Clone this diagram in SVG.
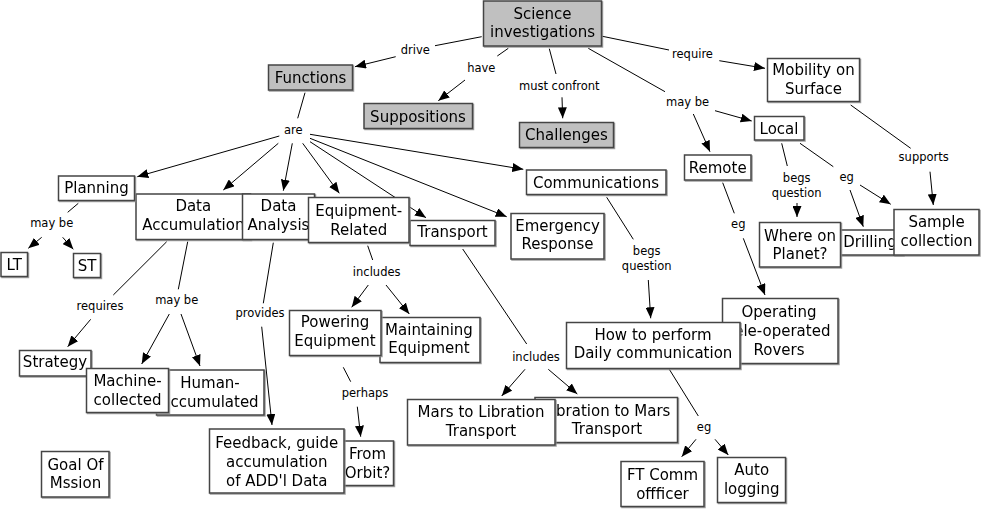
<svg xmlns="http://www.w3.org/2000/svg" width="981" height="509" viewBox="0 0 981 509">
<style>
.box{fill:#fff;stroke:#444;stroke-width:1.5}
.gray{fill:#c0c0c0}
.t{font-family:"DejaVu Sans","Liberation Sans",sans-serif;font-size:15px;fill:#000;text-anchor:middle}
.lb{font-family:"DejaVu Sans","Liberation Sans",sans-serif;font-size:11.5px;fill:#000;text-anchor:middle}
.c line{stroke:#000;stroke-width:1}
.c .a{marker-end:url(#arr)}
</style>
<defs>
<marker id="arr" markerUnits="userSpaceOnUse" markerWidth="11" markerHeight="9" refX="11" refY="4.5" orient="auto">
<path d="M0,0 L11,4.5 L0,9 z" fill="#000"/>
</marker>
<filter id="sh" x="-5%" y="-5%" width="115%" height="120%">
<feDropShadow dx="1" dy="1" stdDeviation="0.6" flood-color="#888" flood-opacity="0.8"/>
</filter>
</defs>
<g id="connectors" class="c">
<line x1="481.7" y1="36.7" x2="435" y2="45.7"/>
<line class="a" x1="395.7" y1="56.7" x2="355" y2="66.7"/>
<line x1="508.3" y1="48.3" x2="497.3" y2="56"/>
<line class="a" x1="465" y1="80" x2="438.3" y2="100.7"/>
<line x1="549.3" y1="48.7" x2="556" y2="74"/>
<line class="a" x1="562" y1="97.3" x2="562.7" y2="118.3"/>
<line x1="601" y1="36" x2="669" y2="50"/>
<line class="a" x1="719.3" y1="60.7" x2="765" y2="68.3"/>
<line x1="588.3" y1="48.3" x2="665" y2="91.7"/>
<line class="a" x1="715" y1="110.7" x2="751.7" y2="121"/>
<line class="a" x1="693.3" y1="114" x2="710" y2="151.7"/>
<line x1="850.7" y1="105" x2="910.7" y2="148.3"/>
<line class="a" x1="930" y1="171.7" x2="933.3" y2="205"/>
<line x1="781.7" y1="143.3" x2="787.3" y2="166"/>
<line class="a" x1="797" y1="203" x2="797" y2="217"/>
<line x1="800" y1="143.3" x2="833.3" y2="166.7"/>
<line class="a" x1="850" y1="190" x2="863.3" y2="226.7"/>
<line class="a" x1="860" y1="185" x2="890.7" y2="204.3"/>
<line x1="722.7" y1="182.7" x2="734.3" y2="213.3"/>
<line class="a" x1="743.3" y1="238.3" x2="765" y2="295"/>
<line x1="606.7" y1="197.3" x2="633.3" y2="239.3"/>
<line class="a" x1="648.3" y1="280" x2="650.7" y2="318.3"/>
<line x1="305" y1="92.7" x2="297.7" y2="118.3"/>
<line class="a" x1="279.3" y1="136" x2="137.3" y2="176.7"/>
<line class="a" x1="278.3" y1="143.3" x2="223.3" y2="190"/>
<line class="a" x1="292.3" y1="143.3" x2="283.3" y2="190.7"/>
<line class="a" x1="302.7" y1="143.3" x2="339.3" y2="193.3"/>
<line class="a" x1="310" y1="141.7" x2="426" y2="217.7"/>
<line class="a" x1="310" y1="138.3" x2="506.7" y2="216.7"/>
<line class="a" x1="310" y1="134.3" x2="523.3" y2="169.3"/>
<line x1="78.3" y1="203.3" x2="67.7" y2="212.3"/>
<line class="a" x1="41.7" y1="237.3" x2="28.3" y2="248.3"/>
<line class="a" x1="62.7" y1="237.3" x2="73.3" y2="249.3"/>
<line x1="166.7" y1="241.7" x2="113.3" y2="295"/>
<line class="a" x1="90.7" y1="319.3" x2="67.7" y2="346.7"/>
<line x1="187.7" y1="241.7" x2="178.3" y2="289.3"/>
<line class="a" x1="169.3" y1="314" x2="141.7" y2="364"/>
<line class="a" x1="181" y1="314" x2="200" y2="366"/>
<line x1="273.3" y1="242.7" x2="263.3" y2="303.3"/>
<line class="a" x1="261.7" y1="326.7" x2="272" y2="425"/>
<line x1="367.7" y1="245.7" x2="372.7" y2="260"/>
<line class="a" x1="368.3" y1="285" x2="351.7" y2="307.3"/>
<line class="a" x1="386" y1="285" x2="409.3" y2="314"/>
<line x1="343.3" y1="367.3" x2="350.7" y2="381.7"/>
<line class="a" x1="357.3" y1="406.7" x2="360.7" y2="436.7"/>
<line x1="462.7" y1="249" x2="526.7" y2="344"/>
<line class="a" x1="525" y1="369.3" x2="501.7" y2="396"/>
<line class="a" x1="548.3" y1="369.3" x2="577.3" y2="394"/>
<line x1="669.3" y1="369.3" x2="698.3" y2="416"/>
<line class="a" x1="696" y1="439.3" x2="681.7" y2="456.7"/>
<line class="a" x1="715" y1="439.3" x2="728.3" y2="455"/>
<g id="link-labels">
<text class="lb" x="415.3" y="54">drive</text>
<text class="lb" x="481.3" y="72">have</text>
<text class="lb" x="559.3" y="90">must confront</text>
<text class="lb" x="692.5" y="58">require</text>
<text class="lb" x="687.5" y="106">may be</text>
<text class="lb" x="923.7" y="161.3">supports</text>
<text class="lb" x="796.7" y="181.7">begs</text>
<text class="lb" x="796.7" y="196.7">question</text>
<text class="lb" x="846.7" y="180.7">eg</text>
<text class="lb" x="738.3" y="228">eg</text>
<text class="lb" x="646.7" y="254.7">begs</text>
<text class="lb" x="646.7" y="269.7">question</text>
<text class="lb" x="293.3" y="134">are</text>
<text class="lb" x="51.7" y="227.3">may be</text>
<text class="lb" x="100" y="309.7">requires</text>
<text class="lb" x="176.7" y="304">may be</text>
<text class="lb" x="260" y="317.3">provides</text>
<text class="lb" x="376.7" y="276.3">includes</text>
<text class="lb" x="365" y="397.3">perhaps</text>
<text class="lb" x="536" y="360.7">includes</text>
<text class="lb" x="704" y="430.7">eg</text>
</g>
</g>
<g id="n-science" filter="url(#sh)"><rect class="box gray" x="483.5" y="1" width="118" height="45"/><text class="t" x="542.5" y="18.5">Science</text><text class="t" x="542.5" y="36.5">investigations</text></g>
<g id="n-functions" filter="url(#sh)"><rect class="box gray" x="268.5" y="65" width="84" height="25"/><text class="t" x="310.5" y="83">Functions</text></g>
<g id="n-suppositions" filter="url(#sh)"><rect class="box gray" x="364" y="103.5" width="108.5" height="25"/><text class="t" x="418" y="121.5">Suppositions</text></g>
<g id="n-challenges" filter="url(#sh)"><rect class="box gray" x="519.5" y="122.5" width="94" height="25"/><text class="t" x="566.5" y="140">Challenges</text></g>
<g id="n-mobility" filter="url(#sh)"><rect class="box" x="767.5" y="58.5" width="92" height="43"/><text class="t" x="813.5" y="75">Mobility on</text><text class="t" x="813.5" y="94">Surface</text></g>
<g id="n-local" filter="url(#sh)"><rect class="box" x="754.5" y="116.5" width="49.5" height="23.5"/><text class="t" x="779" y="133.5">Local</text></g>
<g id="n-remote" filter="url(#sh)"><rect class="box" x="684.5" y="155" width="66.5" height="25"/><text class="t" x="717.7" y="172.5">Remote</text></g>
<g id="n-drilling" filter="url(#sh)"><rect class="box" x="835" y="230" width="68" height="25"/><text class="t" x="870" y="247">Drilling</text></g>
<g id="n-where" filter="url(#sh)"><rect class="box" x="759.5" y="222.5" width="81" height="44.5"/><text class="t" x="800" y="240.5">Where on</text><text class="t" x="800" y="259">Planet?</text></g>
<g id="n-sample" filter="url(#sh)"><rect class="box" x="894" y="209.5" width="85" height="45.5"/><text class="t" x="936.5" y="227">Sample</text><text class="t" x="936.5" y="245.5">collection</text></g>
<g id="n-teleop" filter="url(#sh)"><rect class="box" x="722.5" y="298.5" width="115.5" height="65"/><text class="t" x="779" y="317">Operating</text><text class="t" x="779" y="336">Tele-operated</text><text class="t" x="779" y="354.5">Rovers</text></g>
<g id="n-howto" filter="url(#sh)"><rect class="box" x="566.5" y="322.5" width="173.5" height="46"/><text class="t" x="653" y="339.5">How to perform</text><text class="t" x="653" y="357.5">Daily communication</text></g>
<g id="n-communications" filter="url(#sh)"><rect class="box" x="526.5" y="170" width="139.5" height="24.5"/><text class="t" x="596" y="187.5">Communications</text></g>
<g id="n-emergency" filter="url(#sh)"><rect class="box" x="511" y="213.5" width="93" height="45.5"/><text class="t" x="557.5" y="230.5">Emergency</text><text class="t" x="557.5" y="248.5">Response</text></g>
<g id="n-transport" filter="url(#sh)"><rect class="box" x="410" y="220.5" width="85" height="25"/><text class="t" x="452.5" y="237">Transport</text></g>
<g id="n-daccum" filter="url(#sh)"><rect class="box" x="136" y="194" width="114.5" height="45.5"/><text class="t" x="193.3" y="211">Data</text><text class="t" x="193.3" y="230">Accumulation</text></g>
<g id="n-danalysis" filter="url(#sh)"><rect class="box" x="242.5" y="194" width="72" height="45.5"/><text class="t" x="278.5" y="211">Data</text><text class="t" x="278.5" y="230">Analysis</text></g>
<g id="n-equipment" filter="url(#sh)"><rect class="box" x="308.5" y="197.5" width="100.5" height="45"/><text class="t" x="358.7" y="216">Equipment-</text><text class="t" x="358.7" y="234.5">Related</text></g>
<g id="n-planning" filter="url(#sh)"><rect class="box" x="58.5" y="176" width="76" height="24.5"/><text class="t" x="96.5" y="192.5">Planning</text></g>
<g id="n-lt" filter="url(#sh)"><rect class="box" x="1" y="252.5" width="26.5" height="24"/><text class="t" x="14.3" y="270">LT</text></g>
<g id="n-st" filter="url(#sh)"><rect class="box" x="73.5" y="253.5" width="27" height="24"/><text class="t" x="87" y="271">ST</text></g>
<g id="n-strategy" filter="url(#sh)"><rect class="box" x="19.5" y="350.5" width="71.5" height="25.5"/><text class="t" x="55" y="367">Strategy</text></g>
<g id="n-human" filter="url(#sh)"><rect class="box" x="156.5" y="370" width="107.5" height="45"/><text class="t" x="210" y="388">Human-</text><text class="t" x="210" y="406.5">accumulated</text></g>
<g id="n-machine" filter="url(#sh)"><rect class="box" x="86.5" y="368.5" width="82" height="44"/><text class="t" x="127.5" y="386">Machine-</text><text class="t" x="127.5" y="404.5">collected</text></g>
<g id="n-orbit" filter="url(#sh)"><rect class="box" x="341.5" y="441" width="52" height="44.5"/><text class="t" x="367.5" y="458.5">From</text><text class="t" x="367.5" y="477.5">Orbit?</text></g>
<g id="n-feedback" filter="url(#sh)"><rect class="box" x="209.5" y="429" width="134.5" height="64"/><text class="t" x="276.7" y="448">Feedback, guide</text><text class="t" x="276.7" y="467">accumulation</text><text class="t" x="276.7" y="485.5">of ADD'l Data</text></g>
<g id="n-maintaining" filter="url(#sh)"><rect class="box" x="380" y="317.5" width="100" height="45"/><text class="t" x="429" y="334.5">Maintaining</text><text class="t" x="429" y="353">Equipment</text></g>
<g id="n-powering" filter="url(#sh)"><rect class="box" x="289.5" y="310.5" width="91.5" height="45"/><text class="t" x="335" y="327">Powering</text><text class="t" x="335" y="346">Equipment</text></g>
<g id="n-libmars" filter="url(#sh)"><rect class="box" x="535" y="397.5" width="142.5" height="45"/><text class="t" x="607" y="415.5">Libration to Mars</text><text class="t" x="607" y="434">Transport</text></g>
<g id="n-marslib" filter="url(#sh)"><rect class="box" x="407.5" y="399.5" width="147.5" height="45.5"/><text class="t" x="481" y="417">Mars to Libration</text><text class="t" x="481" y="435.5">Transport</text></g>
<g id="n-ftcomm" filter="url(#sh)"><rect class="box" x="621" y="461.5" width="83" height="45"/><text class="t" x="662.5" y="479.5">FT Comm</text><text class="t" x="662.5" y="498.5">offficer</text></g>
<g id="n-auto" filter="url(#sh)"><rect class="box" x="717.5" y="457.5" width="68" height="45"/><text class="t" x="751.7" y="474.5">Auto</text><text class="t" x="751.7" y="493.5">logging</text></g>
<g id="n-goal" filter="url(#sh)"><rect class="box" x="41.5" y="451.5" width="67.5" height="45.5"/><text class="t" x="75.5" y="469.5">Goal Of</text><text class="t" x="75.5" y="488">Mssion</text></g>
</svg>
